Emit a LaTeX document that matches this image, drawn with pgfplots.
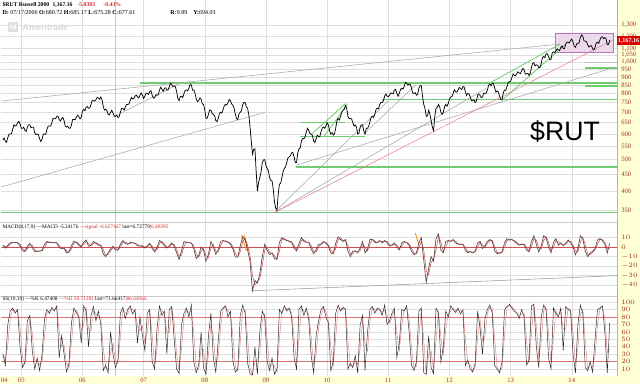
\documentclass[border=0pt]{standalone}
\usepackage{pgfplots}
\pgfplotsset{compat=1.18}
\usepackage{pgfplotstable}
\usepackage{fontspec}
\setmainfont{Liberation Serif}
\newfontfamily\sansf{Liberation Sans}
\definecolor{bgy}{RGB}{255,255,215}
\definecolor{lab}{RGB}{160,50,30}
\definecolor{grd}{RGB}{222,222,222}
\definecolor{grn}{RGB}{110,205,110}
\definecolor{pnk}{RGB}{220,130,150}
\definecolor{macdc}{RGB}{90,70,70}
\definecolor{sigc}{RGB}{210,80,80}
\definecolor{hdrred}{RGB}{220,40,40}

% price, step 0.02 yr from 2004.70
\pgfplotstableread[row sep=\\]{p\\
575\\583\\570\\566\\585\\599\\600\\602\\620\\640\\635\\637\\650\\656\\645\\625\\625\\630\\615\\611\\
630\\641\\640\\627\\630\\630\\605\\597\\600\\598\\580\\569\\578\\599\\600\\598\\620\\634\\635\\635\\
650\\671\\668\\668\\680\\681\\665\\658\\670\\675\\660\\633\\630\\634\\625\\625\\640\\665\\665\\664\\
675\\686\\680\\668\\675\\705\\715\\708\\725\\729\\720\\722\\740\\762\\760\\757\\765\\778\\775\\768\\
780\\765\\730\\711\\715\\709\\690\\687\\700\\710\\695\\682\\680\\686\\675\\678\\700\\720\\720\\711\\
725\\739\\740\\742\\760\\777\\770\\772\\785\\791\\780\\775\\790\\803\\790\\772\\785\\801\\800\\795\\
810\\816\\790\\775\\775\\793\\790\\792\\820\\836\\825\\812\\830\\833\\820\\820\\840\\861\\850\\840\\
845\\838\\810\\772\\760\\783\\785\\777\\800\\818\\820\\815\\830\\853\\850\\819\\820\\803\\770\\755\\
760\\775\\770\\743\\740\\711\\670\\672\\690\\712\\710\\694\\690\\683\\660\\655\\670\\695\\700\\696\\
715\\734\\740\\737\\750\\767\\760\\742\\735\\721\\690\\668\\665\\693\\700\\708\\740\\751\\750\\727\\
720\\687\\630\\569\\520\\538\\540\\460\\400\\426\\440\\458\\490\\499\\500\\480\\470\\462\\440\\431\\
430\\405\\370\\354\\350\\391\\420\\423\\440\\459\\470\\475\\490\\507\\510\\514\\525\\526\\510\\490\\
490\\525\\540\\543\\570\\581\\580\\587\\610\\625\\615\\602\\600\\593\\570\\565\\580\\595\\590\\588\\
610\\626\\630\\625\\635\\650\\640\\614\\600\\606\\595\\600\\625\\658\\670\\663\\680\\701\\710\\715\\
735\\720\\680\\669\\670\\668\\650\\635\\640\\630\\600\\603\\630\\641\\640\\612\\600\\625\\625\\634\\
655\\676\\680\\675\\690\\715\\720\\718\\740\\751\\750\\760\\785\\797\\785\\782\\790\\803\\800\\797\\
820\\823\\800\\784\\800\\823\\830\\825\\840\\866\\860\\850\\855\\853\\830\\802\\800\\805\\790\\794\\
830\\846\\845\\783\\740\\720\\680\\683\\710\\691\\660\\630\\615\\680\\720\\724\\740\\728\\700\\690\\
700\\730\\740\\731\\745\\769\\780\\782\\800\\821\\810\\807\\820\\835\\830\\822\\840\\838\\810\\789\\
800\\798\\780\\760\\760\\765\\750\\758\\790\\796\\790\\777\\780\\802\\800\\802\\820\\848\\855\\845\\
860\\858\\830\\807\\815\\808\\785\\765\\765\\803\\820\\818\\840\\863\\870\\872\\895\\919\\910\\907\\
920\\933\\925\\920\\940\\956\\945\\917\\920\\923\\910\\922\\960\\991\\995\\972\\980\\978\\960\\962\\
990\\1031\\1040\\1031\\1060\\1060\\1040\\1017\\1020\\1067\\1075\\1068\\1080\\1098\\1090\\1084\\1110\\1121\\1100\\1099\\
1135\\1153\\1150\\1145\\1165\\1177\\1150\\1120\\1110\\1138\\1140\\1149\\1190\\1211\\1200\\1161\\1160\\1155\\1130\\1112\\
1120\\1123\\1100\\1089\\1110\\1146\\1150\\1141\\1170\\1193\\1195\\1180\\1190\\1179\\1130\\1133\\1167\\
}\pdata

% oscillators, step 0.04 yr from 2004.70
\pgfplotstableread{
m s k d
2 2 30 30
-1 0.5 15 22
2 0.5 70 42
4.5 3.2 88 79
5 4.8 92 90
5 5 85 88
4.5 4.8 90 88
1.5 3 40 65
-4 -1.2 12 26
-4.5 -4.2 20 16
1 -1.8 75 48
4 2.5 82 78
0 2 35 58
-5 -2.5 10 22
-4.5 -4.8 25 18
-4 -4.2 8 16
-3.5 -3.8 30 19
3 -0.2 78 54
6 4.5 90 84
5 5.5 85 88
4.5 4.8 93 89
5 4.8 88 90
4.5 4.8 95 92
-0.5 2 25 60
-1.5 -1 55 40
-1 -1.2 30 42
-6 -3.5 6 18
-5 -5.5 18 12
1.5 -1.8 72 45
6 3.8 92 82
5 5.5 86 89
2 3.5 80 83
0 1 45 62
5 2.5 95 70
7.5 6.2 88 92
1 4.2 40 64
2 1.5 82 61
6 4 94 88
4 5 75 84
2 3 88 82
2 2 70 79
-7 -2.5 8 39
-10 -8.5 15 12
-6 -8 5 10
-2 -4 60 32
1 -0.5 30 45
-3 -1 12 21
-3 -3 22 17
3 0 85 54
7 5 93 89
4 5.5 78 86
3 3.5 90 84
5 4 95 92
4.5 4.8 84 90
4 4.2 90 87
1.5 2.8 45 68
1 1.2 80 62
1.5 1.2 55 68
-1 0.2 35 45
1.5 0.2 85 60
4 2.8 90 88
-1.5 1.2 20 55
-5 -3.2 10 15
0 -2.5 65 38
7 3.5 95 80
5 6 82 88
1.5 3.2 88 85
-1 0.2 30 59
1.5 0.2 90 60
4.5 3 94 92
1 2.8 50 72
-6 -2.5 10 30
-13 -9.5 4 7
-4 -8.5 70 37
6 1 85 78
5 5.5 92 88
4.5 4.8 80 86
4.5 4.5 96 88
-1.5 1.5 20 58
-12 -6.8 5 12
-9 -10.5 15 10
0 -4.5 60 38
-3 -1.5 12 36
-15 -9 3 8
-7.5 -11.2 55 29
6 -0.8 85 70
0 3 25 55
-7.5 -3.8 6 16
-3 -5.2 48 27
6 1.5 88 68
7 6.5 92 90
6 6.5 95 94
5 5.5 80 88
3 4 88 84
-2 0.5 20 54
-10.5 -6.2 6 13
-10.5 -10.5 10 8
1.5 -4.5 82 46
11 6.2 96 89
7.5 9.2 85 90
-3 2.2 18 52
-15 -9 4 11
-46 -30 2 3
-35 -40 40 21
-38 -36 3 22
-28 -33 60 32
-10 -19 88 74
3 -3.5 80 84
-3 0 20 50
-8 -5.5 8 14
-6 -7 25 16
-12 -9 3 14
-13 -12.5 10 6
5 -4 90 50
10 7.5 85 88
8 9 95 90
7 7.5 88 92
6 6.5 92 90
5 5.5 80 86
-1 2 25 52
-4 -2.5 10 18
4 0 90 50
10 7 95 92
6 8 82 88
5 5.5 92 87
5 5 76 84
-2 1.5 28 52
-7 -4.5 5 16
-3 -5 55 30
3 0 75 65
3 3 90 82
6 4.5 94 92
4 5 80 87
1 2.5 72 76
-6 -2.5 8 40
-7 -6.5 20 14
4 -1.5 85 52
11 7.5 96 90
8 9.5 88 92
6 7 93 90
8 7 90 92
-4 2 10 50
-10 -7 18 14
-4 -7 12 15
-4 -4 28 20
-6 -5 5 16
-1 -3.5 70 38
6 2.5 82 76
-6 0 8 45
-2 -4 60 34
8 3 90 75
8 8 94 92
5 6.5 85 90
4.5 4.8 92 88
7 5.8 90 91
4.5 5.8 82 86
7 5.8 96 89
5 6 70 83
1 3 75 72
2 1.5 85 80
4.5 3.2 92 88
0 2.2 25 58
-3 -1.5 45 35
4.5 0.8 90 68
6 5.2 88 89
4.5 5.2 95 92
2 3.2 60 78
-4.5 -1.2 15 38
-8 -6.2 8 12
-6 -7 20 14
4.5 -0.8 88 54
10 6.2 92 90
-14 -3 5 48
-37 -25 3 4
-22 -29 55 29
-10 -16 12 34
-15 -12.5 4 8
9 -3 92 48
14 11.5 85 88
-3 5.5 20 52
-6 -4.5 40 30
6 0 88 64
7 6.5 80 84
6 6.5 95 88
8 7 90 92
4.5 6.2 86 88
3 3.8 92 89
3 3 84 88
3 3 90 87
-3 0 15 52
-6 -4.5 22 18
-4.5 -5.2 10 16
-6 -5.2 6 8
-4.5 -5.2 18 12
4.5 0 88 53
6 5.2 65 76
-1.5 2.2 30 48
1.5 0 78 54
6 3.8 90 84
8 7 96 93
6 7 85 90
-4 1 15 50
-7 -5.5 10 12
-6 -6.5 5 8
-5 -5.5 20 12
4.5 -0.2 90 55
9 6.8 94 92
7.5 8.2 97 96
8 7.8 92 94
6 7 88 90
4 5 85 86
2 3 78 82
3 2.5 90 84
3 3 80 85
-3 0 15 48
-5 -4 22 18
6 0.5 95 58
12 9 97 96
3 7.5 40 68
-5 -1 12 26
1.5 -1.8 80 46
12 6.8 96 88
10 11 90 93
0 5 25 58
-6 -3 10 18
5 -0.5 92 51
9 7 85 88
2 5.5 80 82
4.5 3.2 92 86
1.5 3 35 64
4 2.8 94 64
7.5 5.8 90 92
4.5 6 88 89
0 2.2 30 59
-8 -4 5 18
-1.5 -4.8 70 38
12 5.2 96 83
9 10.5 85 90
-4.5 2.2 12 48
-10 -7.2 8 10
-6 -8 20 14
-4.5 -5.2 6 13
-1.5 -3 50 28
7.5 3 90 70
9 8.2 92 91
7 8 95 94
3 5 60 78
-6 -1.5 5 32
4 -1 72 38
}\data

\pgfplotsset{
  panel/.style={
    scale only axis, width=462pt, anchor=south west,
    xmin=4.673, xmax=14.739,
    axis line style={draw=none}, major tick length=0pt,
    xtick={5,6,7,8,9,10,11,12,13,14},
    xmajorgrids, ymajorgrids, grid style={grd, line width=0.4pt},
    yticklabel pos=right,
    ticklabel style={font=\fontsize{5}{6}\selectfont, text=lab},
    yticklabel style={anchor=west, inner sep=0pt, xshift=3pt},
  },
  ann/.style={line width=0.4pt, mark=none, forget plot},
  hl/.style={mark=none, forget plot, draw=#1, line width=0.9pt},
}

\begin{document}
\begin{tikzpicture}
\fill[bgy] (0pt,0pt) rectangle (480pt,288pt);
\fill[white] (0pt,6pt) rectangle (462.75pt,288pt);
\draw[gray!60, line width=0.4pt] (462.75pt,6pt) -- (462.75pt,288pt);

% ---------- price panel ----------
\begin{axis}[panel, at={(0.75pt,121.5pt)}, height=166.5pt,
  ymode=log, ymin=321, ymax=1550,
  ytick={350,400,450,500,550,600,650,700,750,800,850,900,950,1000,1050,1100,1200,1300},
  yticklabels={350,400,450,500,550,600,650,700,750,800,850,900,950,{1,000},{1,050},{1,100},{1,200},{1,300}},
  xticklabels={}]
\addplot[hl=pnk!60, line width=0.4pt] coordinates {(6.54,321) (6.54,1550)};
\addplot[ann, draw=violet!55, fill=violet!15, line width=0.5pt] coordinates {(13.725,1074) (14.673,1074) (14.673,1228) (13.725,1228) (13.725,1074)};
\addplot[hl=grn] coordinates {(6.944,862) (14.739,862)};
\addplot[hl=grn] coordinates {(4.673,343) (14.739,343)};
\addplot[hl=grn] coordinates {(9.493,475) (14.739,475)};
\addplot[hl=grn] coordinates {(10.9,765) (14.739,765)};
\addplot[hl=grn] coordinates {(14.22,958) (14.739,958)};
\addplot[hl=grn, line width=1.2pt] coordinates {(14.22,845) (14.739,845)};
\addplot[hl=gray!50, line width=0.6pt] coordinates {(14.22,1000) (14.739,1000)};
\addplot[hl=grn, line width=0.6pt] coordinates {(9.559,653) (10.294,653)};
\addplot[hl=grn, line width=0.6pt] coordinates {(9.559,588) (10.621,588)};
\addplot[hl=grn, line width=0.6pt] coordinates {(9.75,600) (10.30,745)};
\addplot[hl=grn, line width=0.6pt] coordinates {(9.95,590) (10.33,740)};
\addplot[hl=grn, line width=0.6pt] coordinates {(12.663,862) (13.807,1136)};
\addplot[hl=grn, line width=0.6pt] coordinates {(12.859,763) (13.922,1144)};
\addplot[ann, gray!70] coordinates {(4.673,758) (13.807,1136)};
\addplot[ann, gray!70] coordinates {(4.673,412) (8.987,700)};
\addplot[ann, gray!70] coordinates {(6.503,677) (7.598,860)};
\addplot[ann, gray!70] coordinates {(9.134,343) (11.0,760)};
\addplot[ann, gray!70] coordinates {(9.134,343) (12.6,830)};
\addplot[ann, gray!70] coordinates {(10.6,600) (11.45,850)};
\addplot[ann, gray!70] coordinates {(9.49,481) (14.673,960)};
\addplot[ann, pnk] coordinates {(9.134,343) (14.673,1169)};
\addplot[black, line width=0.55pt, mark=none] table[x expr=4.70+0.02*\coordindex, y=p]{\pdata};
\end{axis}

% ---------- MACD panel ----------
\begin{axis}[panel, at={(0.75pt,66pt)}, height=55.5pt,
  ymin=-51.6, ymax=26.3, ytick={-40,-30,-20,-10,0,10},
  xticklabels={}]
\addplot[hl=pnk!60, line width=0.4pt] coordinates {(6.54,-51.6) (6.54,26.3)};
\addplot[hl=sigc, line width=0.6pt] coordinates {(4.673,0) (14.739,0)};
\addplot[ann, gray!80] coordinates {(8.76,-46) (14.739,-30)};
\addplot[hl=orange, line width=0.6pt] coordinates {(8.60,13) (8.68,-4)};
\addplot[hl=orange, line width=0.6pt] coordinates {(8.64,13) (8.72,-4)};
\addplot[hl=orange, line width=0.6pt] coordinates {(11.44,15) (11.50,3)};
\addplot[sigc, line width=0.4pt, mark=none] table[x expr=4.70+0.04*\coordindex, y=s]{\data};
\addplot[macdc, line width=0.5pt, mark=none] table[x expr=4.70+0.04*\coordindex, y=m]{\data};
\end{axis}

% ---------- stochastic panel ----------
\begin{axis}[panel, at={(0.75pt,6pt)}, height=60pt,
  ymin=0.6, ymax=108, ytick={10,20,30,40,50,60,70,80,90,100},
  xticklabels={05,06,07,08,09,10,11,12,13,14},
  extra x ticks={4.72}, extra x tick labels={04},
  extra x tick style={grid=none},
  xticklabel style={anchor=north, inner sep=0pt, yshift=-1.5pt}]
\addplot[hl=pnk!60, line width=0.4pt] coordinates {(6.54,0.6) (6.54,108)};
\addplot[hl=sigc!80, line width=0.7pt] coordinates {(4.673,80) (14.739,80)};
\addplot[hl=sigc!80, line width=0.7pt] coordinates {(4.673,20) (14.739,20)};
\addplot[sigc!70, line width=0.35pt, mark=none] table[x expr=4.70+0.04*\coordindex, y=d]{\data};
\addplot[black!85, line width=0.35pt, mark=none] table[x expr=4.70+0.04*\coordindex, y=k]{\data};
\end{axis}

% panel separators
\draw[gray!40, line width=0.4pt] (0pt,121.5pt) -- (462.75pt,121.5pt);
\draw[gray!40, line width=0.4pt] (0pt,66pt) -- (462.75pt,66pt);

% ---------- header texts ----------
\begin{scope}[every node/.style={inner sep=0pt, anchor=base west, font=\fontsize{4.2}{5}\selectfont}]
\node[font=\fontsize{4.3}{5}\selectfont\bfseries] at (1.5pt,283.5pt) {\$RUT Russell 2000};
\node[font=\fontsize{4.3}{5}\selectfont\bfseries] at (39pt,283.5pt) {1,167.16};
\node[font=\fontsize{4.3}{5}\selectfont\bfseries, text=hdrred] at (57.75pt,283.5pt) {-5.0383};
\node[font=\fontsize{4.3}{5}\selectfont\bfseries, text=hdrred] at (77.25pt,283.5pt) {-0.43\%};
\node[font=\fontsize{4.5}{5}\selectfont] at (1.5pt,277.5pt) {\textbf{D:} 07/17/2006 \textbf{O:}680.72 \textbf{H:}685.17 \textbf{L:}675.28 \textbf{C:}677.61};
\node[font=\fontsize{4.5}{5}\selectfont] at (127.5pt,277.5pt) {\textbf{R:}9.89};
\node[font=\fontsize{4.5}{5}\selectfont] at (144.75pt,277.5pt) {\textbf{Y:}694.03};
\node[font=\fontsize{4}{5}\selectfont] at (1.5pt,117pt) {MACD(8,17,9) \textemdash MACD -5.24176 \textcolor{hdrred}{\textemdash signal -6.627167} last=6.72779\textcolor{hdrred}{|6.49395}};
\node[font=\fontsize{4}{5}\selectfont] at (1.5pt,63pt) {SS(10,10) \textemdash\%K 6.47408 \textcolor{hdrred}{\textemdash\%D 59.71281} last=71.66417\textcolor{hdrred}{|86.64566}};
\end{scope}
% watermark
\fill[gray!25] (6pt,264pt) rectangle (13.5pt,271.5pt);
\node[font=\sansf\bfseries\fontsize{5}{6}\selectfont, text=white, inner sep=0pt] at (9.75pt,267.75pt) {td};
\node[font=\sansf\bfseries\fontsize{6.5}{7}\selectfont, text=gray!30, anchor=west, inner sep=0pt] at (16.5pt,267.75pt) {Ameritrade};

% price tag
\fill[red!85!black] (462.75pt,254.25pt) rectangle (480pt,261pt);
\node[font=\bfseries\fontsize{4.6}{5}\selectfont, text=white, inner sep=0pt] at (471.375pt,257.625pt) {1,167.16};

% big label
\node[font=\sansf\fontsize{20}{24}\selectfont, inner sep=0pt] at (423.75pt,189.75pt) {\$RUT};
\end{tikzpicture}
\end{document}
